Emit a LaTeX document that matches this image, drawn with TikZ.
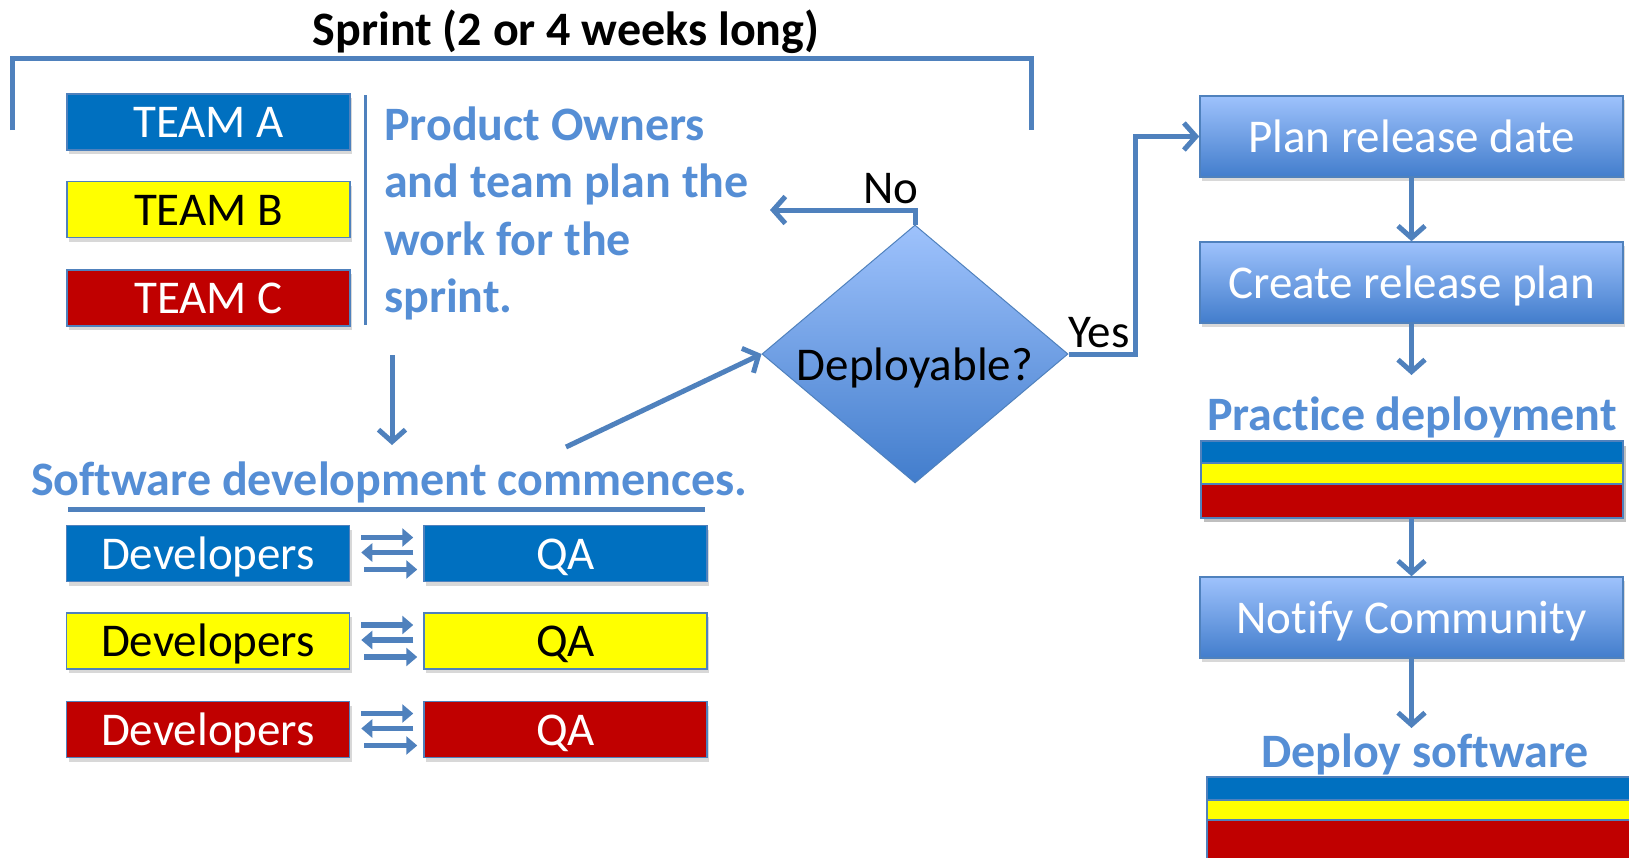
\documentclass[tikz,border=0pt]{standalone}
\usepackage{fontspec}
\setmainfont[Ligatures=NoCommon]{Carlito}
\usetikzlibrary{arrows.meta,shapes.geometric,shadows,calc}
\definecolor{lnblue}{RGB}{79,129,189}
\definecolor{txblue}{RGB}{85,142,213}
\definecolor{tblue}{RGB}{0,112,192}
\definecolor{tyellow}{RGB}{255,255,0}
\definecolor{tred}{RGB}{192,0,0}
\definecolor{gtop}{RGB}{158,194,252}
\definecolor{gbot}{RGB}{66,125,204}
\begin{document}
\begin{tikzpicture}[x=1pt,y=-1pt,
  big/.style={font=\fontsize{47}{57}\selectfont},
  bigb/.style={font=\fontsize{48}{58}\selectfont\bfseries},
  shad/.style={drop shadow={shadow xshift=2pt,shadow yshift=-4pt,opacity=0.3}},
  colbox/.style={draw=lnblue, line width=1.5pt, minimum width=283pt, minimum height=56pt, inner sep=0pt, big, text height=31pt, text depth=0pt, shad},
  flowbox/.style={draw=lnblue, line width=1.5pt, minimum width=423pt, minimum height=81pt, inner sep=0pt, big, text height=31pt, text depth=0pt, text=white, top color=gtop, bottom color=gbot, shad},
  arr/.style={draw=lnblue, line width=5pt, -{Straight Barb[length=12pt,width=27pt]}},
  dbl/.style={draw=lnblue, line width=5.5pt, -{Triangle[length=11pt,width=18pt]}},
  bluetxt/.style={bigb, text=txblue, inner sep=0pt},
]
\useasboundingbox[fill=white] (0,0) rectangle (1629,857);

% title and bracket
\node[bigb, anchor=base, inner sep=0pt] (title) at (566,45) {Sprint (2 or 4 weeks long)};
\draw[lnblue, line width=5pt] (12,130) -- (12,58) -- (1031,58) -- (1031,130);

% teams
\node[colbox, fill=tblue, text=white] (ta) at (208.5,122) {TEAM A};
\node[colbox, fill=tyellow, text=black] (tb) at (208.5,209.5) {TEAM B};
\node[colbox, fill=tred, text=white] (tc) at (208.5,298) {TEAM C};
\draw[lnblue, line width=3pt] (365,95) -- (365,325);

% product owners text
\node[bluetxt, anchor=base west] (po1) at (384,140) {Product Owners};
\node[bluetxt, anchor=base west] (po2) at (384,197) {and team plan the};
\node[bluetxt, anchor=base west] (po3) at (384,255) {work for the};
\node[bluetxt, anchor=base west] (po4) at (384,312) {sprint.};

% software development
\node[bluetxt, anchor=base west] (sw) at (31,495) {Software development commences.};
\draw[lnblue, line width=5pt] (68,509) -- (705,509);
\coordinate (dnstart) at (392,355);
\draw[arr] (dnstart) -- (392,445);

% dev / qa
\node[colbox, fill=tblue, text=white] (d1) at (208,553.5) {Developers};
\node[colbox, fill=tyellow, text=black] (d2) at (208,641) {Developers};
\node[colbox, fill=tred, text=white] (d3) at (208,729.5) {Developers};
\node[colbox, fill=tblue, text=white] (q1) at (565.5,553.5) {QA};
\node[colbox, fill=tyellow, text=black] (q2) at (565.5,641) {QA};
\node[colbox, fill=tred, text=white] (q3) at (565.5,729.5) {QA};
\foreach \r in {1,2,3} {
  \draw[dbl] ([xshift=11pt,yshift=16pt]d\r.east) -- ([xshift=-10pt,yshift=16pt]q\r.west);
  \draw[dbl] ([xshift=-10pt,yshift=1pt]q\r.west) -- ([xshift=11pt,yshift=1pt]d\r.east);
  \draw[dbl] ([xshift=14pt,yshift=-16pt]d\r.east) -- ([xshift=-6pt,yshift=-16pt]q\r.west);
}

% decision
\node[diamond, aspect=1.186, minimum width=306pt, minimum height=258pt, inner sep=0pt,
      top color=gtop, bottom color=gbot, draw=lnblue, line width=1pt, big, text=black,
      text height=52pt, text depth=0pt] (dia) at (915,354) {Deployable?};
\coordinate (dgstart) at (566,447);
\draw[arr] (dgstart) -- (dia.west);
\coordinate (noend) at (770,210);
\draw[arr] (dia.north) |- (noend);
\node[big, anchor=base west, inner sep=0pt] (no) at (863,203) {No};
\node[big, anchor=base west, inner sep=0pt] (yes) at (1068,347) {Yes};

% right column
\node[flowbox] (plan) at (1411.5,136.5) {Plan release date};
\node[flowbox] (create) at (1411.5,282.5) {Create release plan};
\node[flowbox] (notify) at (1411.5,617.5) {Notify Community};
\draw[arr] (dia.east) -- ++(67,0) |- (plan.west);
\draw[arr] (plan.south) -- (create.north);

\node[bluetxt, anchor=base] (practice) at (1412,430) {Practice deployment};
\draw[arr] (create.south) -- (1411.5,375);
\fill[black, opacity=0.25] (1204,446) rectangle (1626,522);
\draw[draw=lnblue, line width=1.5pt, fill=tblue] (1201,441) rectangle (1623,463);
\draw[draw=lnblue, line width=1.5pt, fill=tyellow] (1201,463) rectangle (1623,484);
\draw[draw=lnblue, line width=1.5pt, fill=tred] (1201,484) rectangle (1623,518);
\coordinate (pbot) at (1411.5,518);
\draw[arr] (pbot) -- (notify.north);

\node[bluetxt, anchor=base] (deploy) at (1425,767) {Deploy software};
\draw[arr] (notify.south) -- (1411.5,728);
\draw[draw=lnblue, line width=1.5pt, fill=tblue] (1207,777) rectangle (1640,800);
\draw[draw=lnblue, line width=1.5pt, fill=tyellow] (1207,800) rectangle (1640,820);
\draw[draw=lnblue, line width=1.5pt, fill=tred] (1207,820) rectangle (1640,870);
\end{tikzpicture}
\end{document}
